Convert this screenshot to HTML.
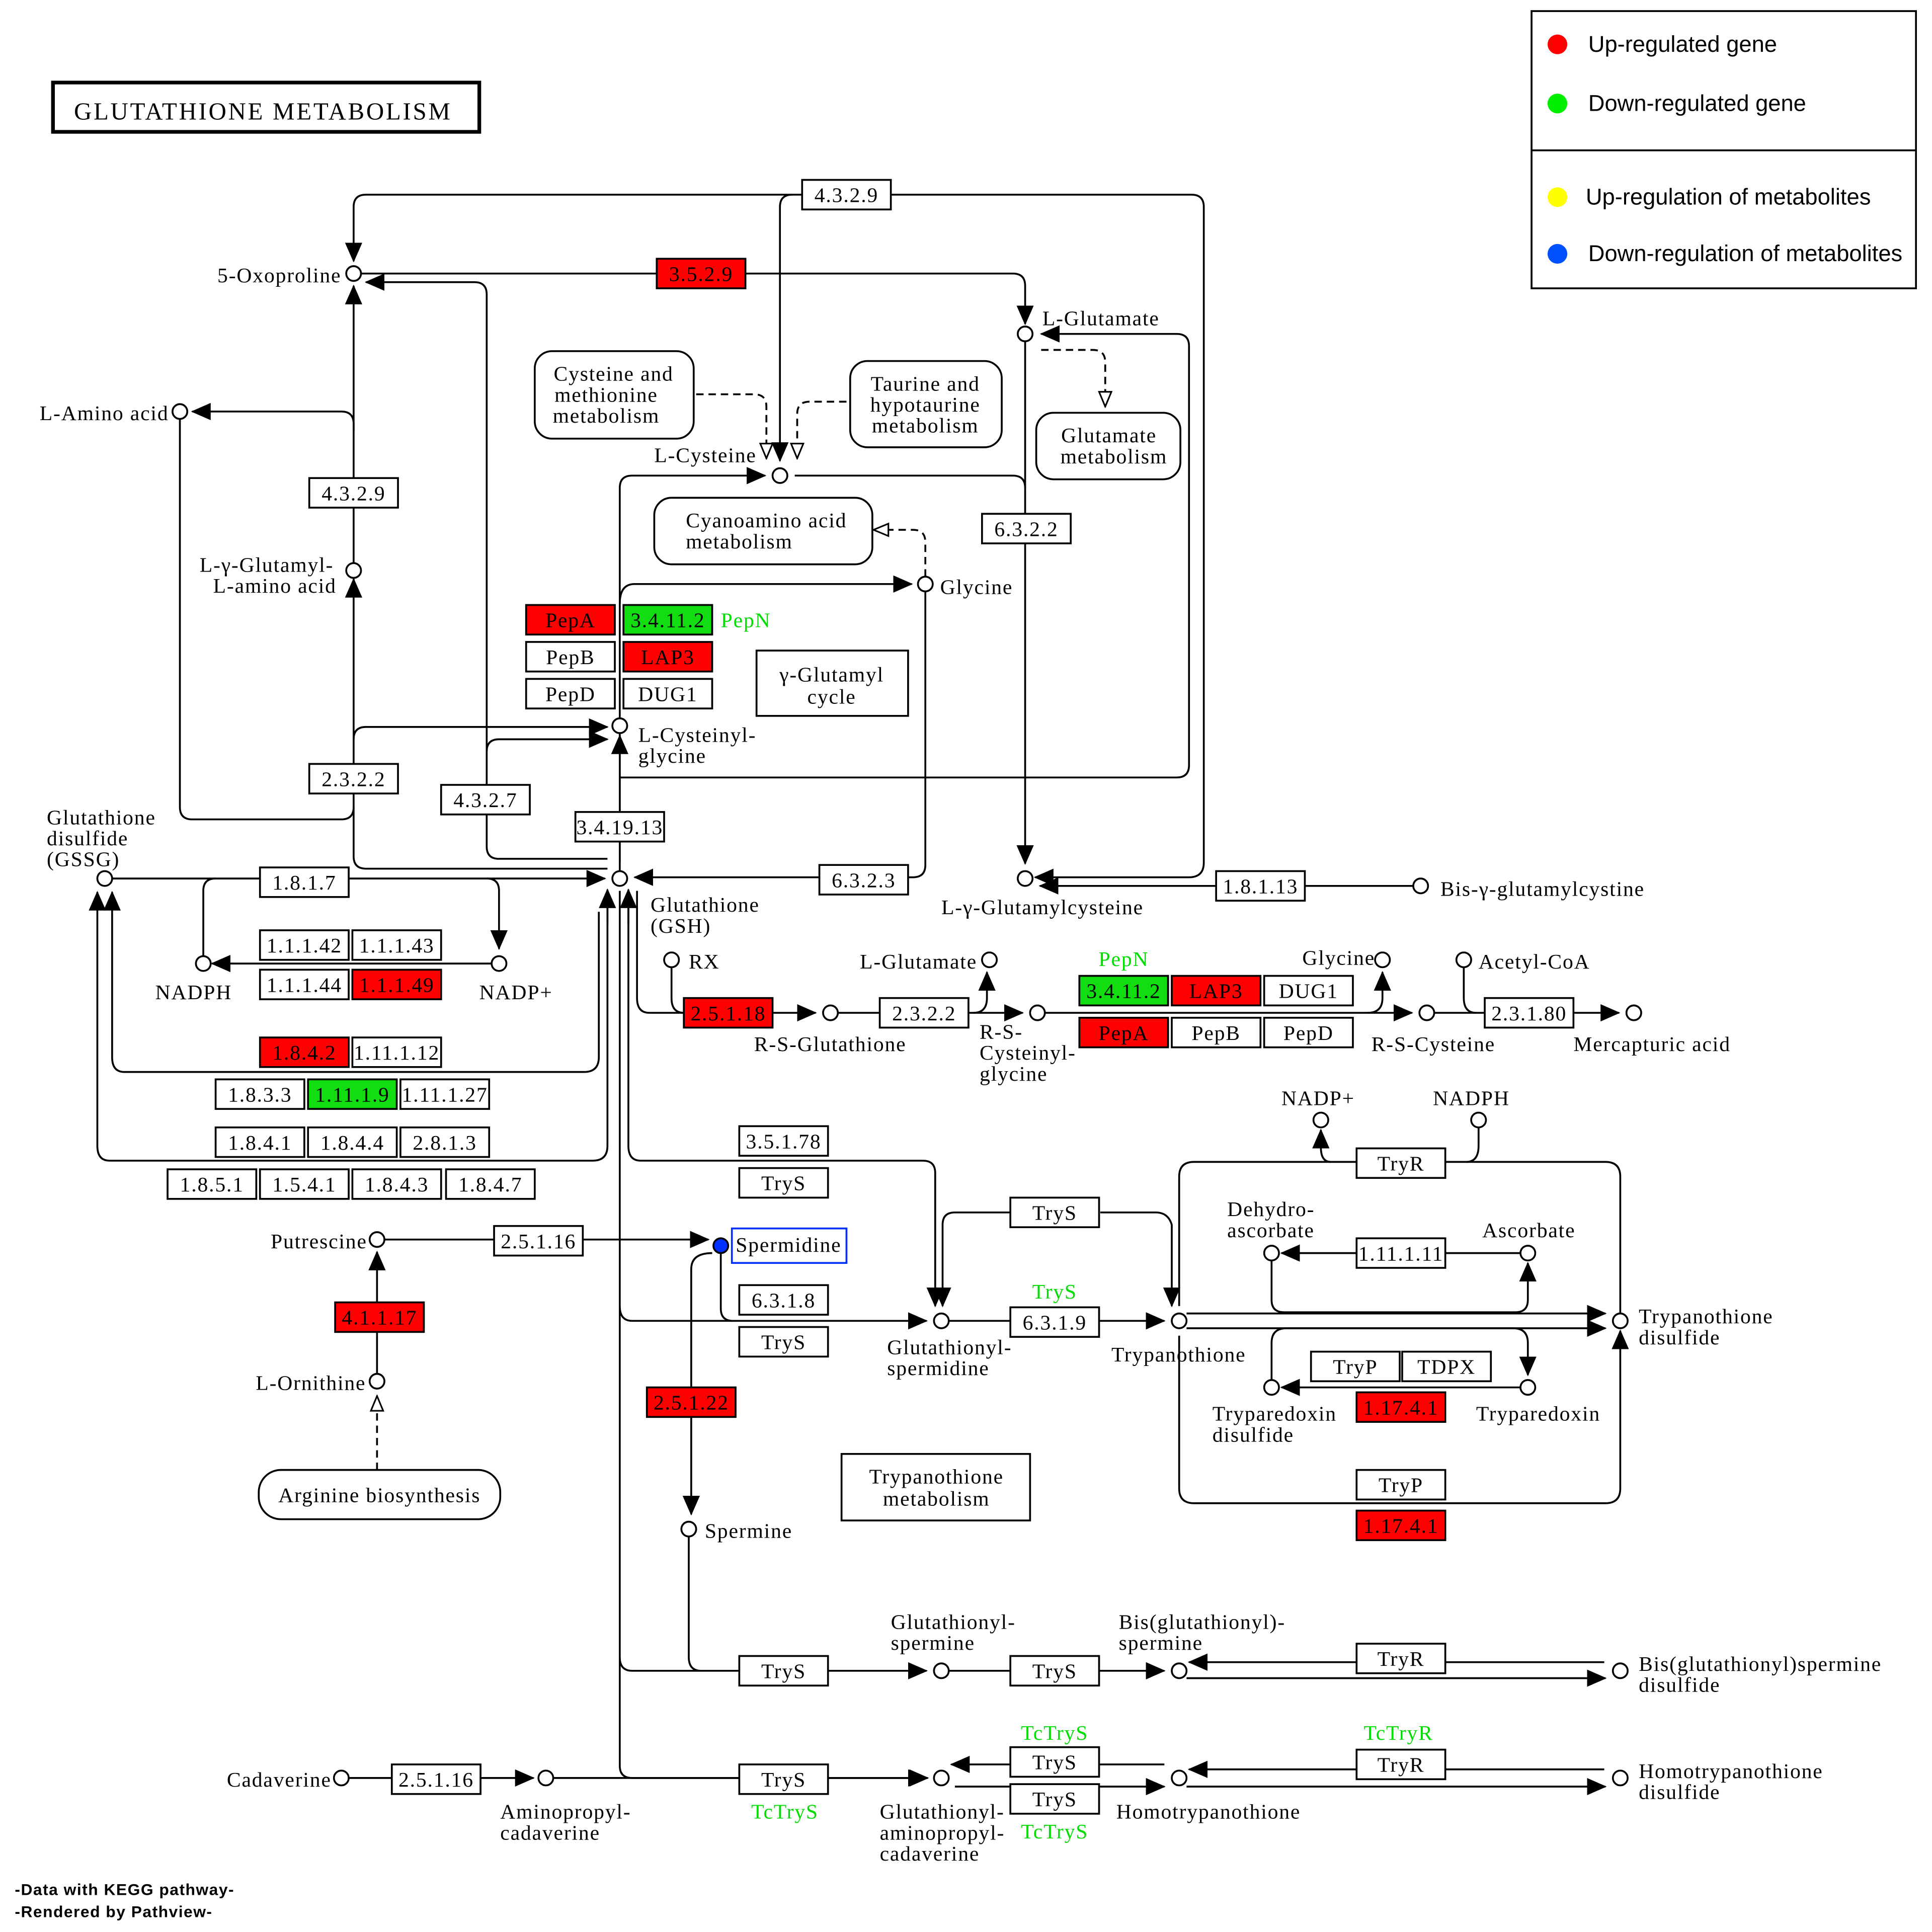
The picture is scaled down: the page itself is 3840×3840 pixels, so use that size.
<!DOCTYPE html>
<html><head><meta charset="utf-8"><style>
html,body{margin:0;padding:0;background:#fff}
svg{display:block}
text{font-family:"Liberation Serif",serif;font-size:17px;letter-spacing:0.75px;fill:#000}
.s{font-family:"Liberation Sans",sans-serif;letter-spacing:0}
.g{fill:#00dd00}
.l{fill:none;stroke:#000;stroke-width:1.5}
.d{fill:none;stroke:#000;stroke-width:1.5;stroke-dasharray:6,4}
.c{fill:#fff;stroke:#000;stroke-width:1.5}
.e{text-anchor:end}
</style></head><body>
<svg width="3840" height="3840" viewBox="0 0 1568 1568" xmlns="http://www.w3.org/2000/svg">
<defs>
<marker id="a" markerUnits="userSpaceOnUse" markerWidth="16" markerHeight="14" refX="15" refY="7" orient="auto"><path d="M0,0 L16,7 L0,14 z" fill="#000"/></marker>
<marker id="o" markerUnits="userSpaceOnUse" markerWidth="14" markerHeight="12" refX="13" refY="6" orient="auto"><path d="M1,1 L13,6 L1,11 z" fill="#fff" stroke="#000" stroke-width="1.3"/></marker>
</defs>
<rect width="1568" height="1568" fill="#fff"/>
<rect x="43" y="67" width="346" height="40" fill="none" stroke="#000" stroke-width="3"/>
<text x="60" y="97" style="font-size:20px;letter-spacing:1.5px">GLUTATHIONE  METABOLISM</text>
<rect x="1243" y="9" width="312" height="225" fill="none" stroke="#000" stroke-width="1.5"/>
<line x1="1243" y1="122" x2="1555" y2="122" stroke="#000" stroke-width="1.5"/>
<circle cx="1264" cy="36" r="8" fill="#f00"/><text class="s" x="1289" y="42" style="font-size:18.5px">Up-regulated gene</text>
<circle cx="1264" cy="84" r="8" fill="#0e0"/><text class="s" x="1289" y="90" style="font-size:18.5px">Down-regulated gene</text>
<circle cx="1264" cy="160" r="8" fill="#ff0"/><text class="s" x="1287" y="166" style="font-size:18.5px">Up-regulation of metabolites</text>
<circle cx="1264" cy="206" r="8" fill="#0050ff"/><text class="s" x="1289" y="212" style="font-size:18.5px">Down-regulation of metabolites</text>

<g class="l">
<path d="M651,158 H297 Q287,158 287,168 V212" marker-end="url(#a)"/>
<path d="M723,158 H967 Q977,158 977,168 V700 Q977,712 965,712 H840" marker-end="url(#a)"/>
<path d="M643,158 Q633,158 633,168 V374" marker-end="url(#a)"/>
<path d="M293,222 H822 Q832,222 832,232 V263" marker-end="url(#a)"/>
<path d="M493,697 H405 Q395,697 395,687 V239 Q395,229 385,229 H297" marker-end="url(#a)"/>
<path d="M395,610 Q395,600 405,600 H493" marker-end="url(#a)"/>
<path d="M493,705 H297 Q287,705 287,695 V232" marker-end="url(#a)"/>
<path d="M287,350 V344 Q287,334 277,334 H156" marker-end="url(#a)"/>
<path d="M146,340 V655 Q146,665 156,665 H277 Q287,665 287,655"/>
<path d="M287,480 V470" marker-end="url(#a)"/>
<path d="M287,600 Q287,590 297,590 H493" marker-end="url(#a)"/>
<path d="M503,700 V396 Q503,386 513,386 H621" marker-end="url(#a)"/>
<path d="M645,386 H822 Q832,386 832,396"/>
<path d="M832,277 V701" marker-end="url(#a)"/>
<path d="M503,490 Q503,474 515,474 H740" marker-end="url(#a)"/>
<path d="M751,480 V702 Q751,712 741,712 H515" marker-end="url(#a)"/>
<path d="M503,707 V597" marker-end="url(#a)"/>
<path d="M503,631 H955 Q965,631 965,621 V281 Q965,271 955,271 H845" marker-end="url(#a)"/>
<path d="M1147,719 H844" marker-end="url(#a)"/>
<path d="M91,713 H491" marker-end="url(#a)"/>
<path d="M175,713 Q165,713 165,723 V776"/>
<path d="M395,713 Q405,713 405,723 V770" marker-end="url(#a)"/>
<path d="M399,782 H172" marker-end="url(#a)"/>
<path d="M486,740 V858 Q486,870 474,870 H101 Q91,870 91,858 V724" marker-end="url(#a)"/>
<path d="M493,724 V930 Q493,942 481,942 H89 Q79,942 79,930 V724" marker-end="url(#a)"/>
<path d="M493,750 V722" marker-end="url(#a)"/>
<path d="M510,750 V722" marker-end="url(#a)"/>
<path d="M517,723 V810 Q517,822 527,822 H662" marker-end="url(#a)"/>
<path d="M545,785 V810 Q545,822 555,822"/>
<path d="M680,822 H830" marker-end="url(#a)"/>
<path d="M790,822 Q801,822 801,810 V789" marker-end="url(#a)"/>
<path d="M848,822 H1146" marker-end="url(#a)"/>
<path d="M1110,822 Q1122,822 1122,810 V789" marker-end="url(#a)"/>
<path d="M1164,822 H1314" marker-end="url(#a)"/>
<path d="M1188,785 V810 Q1188,822 1198,822"/>
<path d="M510,723 V930 Q510,942 520,942 H749 Q759,942 759,952 V1060" marker-end="url(#a)"/>
<path d="M503,723 V1060 Q503,1072 513,1072 H752" marker-end="url(#a)"/>
<path d="M503,1060 V1345 Q503,1356 513,1356 H752" marker-end="url(#a)"/>
<path d="M503,1345 V1433 Q503,1443 513,1443 H752" marker-end="url(#a)"/>
<path d="M312,1006 H575" marker-end="url(#a)"/>
<path d="M306,1057 V1016" marker-end="url(#a)"/>
<path d="M306,1115 V1081"/>
<path d="M585,1017 V1062 Q585,1072 595,1072"/>
<path d="M578,1017 Q561,1017 561,1030 V1229" marker-end="url(#a)"/>
<path d="M559,1247 V1345 Q559,1356 569,1356"/>
<path d="M820,984 H775 Q765,984 765,994 V1060" marker-end="url(#a)"/>
<path d="M893,984 H938 Q948,984 951,994 V1060" marker-end="url(#a)"/>
<path d="M770,1072 H945" marker-end="url(#a)"/>
<path d="M963,1066 H1303" marker-end="url(#a)"/>
<path d="M963,1078 H1303" marker-end="url(#a)"/>
<path d="M957,1060 V955 Q957,943 969,943 H1303 Q1315,943 1315,955 V1066"/>
<path d="M1080,943 Q1072,943 1072,931 V917" marker-end="url(#a)"/>
<path d="M1200,915 V930 Q1200,943 1190,943"/>
<path d="M957,1084 V1208 Q957,1220 969,1220 H1303 Q1315,1220 1315,1208 V1080" marker-end="url(#a)"/>
<path d="M1234,1017 H1040" marker-end="url(#a)"/>
<path d="M1032,1023 V1055 Q1032,1065 1042,1065 H1230 Q1240,1065 1240,1055 V1025" marker-end="url(#a)"/>
<path d="M1234,1126 H1040" marker-end="url(#a)"/>
<path d="M1032,1120 V1090 Q1032,1078 1044,1078 H1228 Q1240,1078 1240,1090 V1116" marker-end="url(#a)"/>
<path d="M770,1356 H945" marker-end="url(#a)"/>
<path d="M1302,1349 H965" marker-end="url(#a)"/>
<path d="M963,1362 H1303" marker-end="url(#a)"/>
<path d="M283,1443 H433" marker-end="url(#a)"/>
<path d="M449,1443 H753" marker-end="url(#a)"/>
<path d="M945,1432 H772" marker-end="url(#a)"/>
<path d="M775,1450 H945" marker-end="url(#a)"/>
<path d="M1302,1436 H965" marker-end="url(#a)"/>
<path d="M963,1450 H1303" marker-end="url(#a)"/>
</g>
<g>
<path class="d" d="M845,284 H887 Q897,284 897,294 V330" marker-end="url(#o)"/>
<path class="d" d="M565,320 H612 Q622,320 622,330 V372" marker-end="url(#o)"/>
<path class="d" d="M687,326 H657 Q647,326 647,336 V372" marker-end="url(#o)"/>
<path class="d" d="M751,468 V440 Q751,430 741,430 H709" marker-end="url(#o)"/>
<path class="d" d="M306,1193 V1133" marker-end="url(#o)"/>
</g>

<g>
<g stroke="#000" stroke-width="1.5" fill="#fff">
<rect x="651" y="146" width="72" height="24"/>
<rect x="251" y="388" width="72" height="24"/>
<rect x="797" y="417" width="72" height="24"/>
<rect x="427" y="521" width="72" height="24"/>
<rect x="427" y="551" width="72" height="24"/>
<rect x="506" y="551" width="72" height="24"/>
<rect x="614" y="528" width="123" height="53"/>
<rect x="251" y="620" width="72" height="24"/>
<rect x="358" y="637" width="72" height="24"/>
<rect x="467" y="659" width="72" height="24"/>
<rect x="665" y="702" width="72" height="24"/>
<rect x="987" y="707" width="72" height="24"/>
<rect x="211" y="704" width="72" height="24"/>
<rect x="211" y="755" width="72" height="24"/>
<rect x="286" y="755" width="72" height="24"/>
<rect x="211" y="787" width="72" height="24"/>
<rect x="286" y="842" width="72" height="24"/>
<rect x="175" y="876" width="72" height="24"/>
<rect x="325" y="876" width="72" height="24"/>
<rect x="175" y="915" width="72" height="24"/>
<rect x="250" y="915" width="72" height="24"/>
<rect x="325" y="915" width="72" height="24"/>
<rect x="136" y="949" width="72" height="24"/>
<rect x="211" y="949" width="72" height="24"/>
<rect x="286" y="949" width="72" height="24"/>
<rect x="362" y="949" width="72" height="24"/>
<rect x="714" y="810" width="72" height="24"/>
<rect x="1026" y="792" width="72" height="24"/>
<rect x="951" y="826" width="72" height="24"/>
<rect x="1026" y="826" width="72" height="24"/>
<rect x="1205" y="810" width="72" height="24"/>
<rect x="600" y="914" width="72" height="24"/>
<rect x="600" y="948" width="72" height="24"/>
<rect x="401" y="995" width="72" height="24"/>
<rect x="600" y="1043" width="72" height="24"/>
<rect x="600" y="1077" width="72" height="24"/>
<rect x="820" y="972" width="72" height="24"/>
<rect x="820" y="1061" width="72" height="24"/>
<rect x="1101" y="932" width="72" height="24"/>
<rect x="1101" y="1005" width="72" height="24"/>
<rect x="1064" y="1097" width="72" height="24"/>
<rect x="1138" y="1097" width="72" height="24"/>
<rect x="1101" y="1193" width="72" height="24"/>
<rect x="683" y="1180" width="153" height="54"/>
<rect x="600" y="1344" width="72" height="24"/>
<rect x="820" y="1344" width="72" height="24"/>
<rect x="1101" y="1334" width="72" height="24"/>
<rect x="820" y="1418" width="72" height="24"/>
<rect x="820" y="1448" width="72" height="24"/>
<rect x="1101" y="1420" width="72" height="24"/>
<rect x="600" y="1432" width="72" height="24"/>
<rect x="318" y="1432" width="72" height="24"/>
</g>
<g stroke="#000" stroke-width="1.5" fill="#f00">
<rect x="533" y="210" width="72" height="24"/>
<rect x="427" y="491" width="72" height="24"/>
<rect x="506" y="521" width="72" height="24"/>
<rect x="286" y="787" width="72" height="24"/>
<rect x="211" y="842" width="72" height="24"/>
<rect x="555" y="810" width="72" height="24"/>
<rect x="951" y="792" width="72" height="24"/>
<rect x="876" y="826" width="72" height="24"/>
<rect x="1101" y="1130" width="72" height="24"/>
<rect x="1101" y="1226" width="72" height="24"/>
<rect x="272" y="1057" width="72" height="24"/>
<rect x="525" y="1126" width="72" height="24"/>
</g>
<g stroke="#000" stroke-width="1.5" fill="#11dd11">
<rect x="506" y="491" width="72" height="24"/>
<rect x="250" y="876" width="72" height="24"/>
<rect x="876" y="792" width="72" height="24"/>
</g>
<rect x="594" y="997" width="93" height="28" fill="#fff" stroke="#0030ff" stroke-width="1.5"/>
<g stroke="#000" stroke-width="1.5" fill="#fff">
<rect x="434" y="285" width="129" height="71" rx="14"/>
<rect x="690" y="293" width="123" height="70" rx="14"/>
<rect x="841" y="335" width="117" height="54" rx="14"/>
<rect x="531" y="404" width="177" height="54" rx="14"/>
<rect x="210" y="1193" width="196" height="40" rx="18"/>
</g>
</g>
<g text-anchor="middle">
<text x="687" y="164">4.3.2.9</text>
<text x="569" y="228">3.5.2.9</text>
<text x="287" y="406">4.3.2.9</text>
<text x="833" y="435">6.3.2.2</text>
<text x="463" y="509">PepA</text>
<text x="542" y="509">3.4.11.2</text>
<text x="463" y="539">PepB</text>
<text x="542" y="539">LAP3</text>
<text x="463" y="569">PepD</text>
<text x="542" y="569">DUG1</text>
<text x="675" y="553">γ-Glutamyl</text>
<text x="675" y="571">cycle</text>
<text x="287" y="638">2.3.2.2</text>
<text x="394" y="655">4.3.2.7</text>
<text x="503" y="677">3.4.19.13</text>
<text x="701" y="720">6.3.2.3</text>
<text x="1023" y="725">1.8.1.13</text>
<text x="247" y="722">1.8.1.7</text>
<text x="247" y="773">1.1.1.42</text>
<text x="322" y="773">1.1.1.43</text>
<text x="247" y="805">1.1.1.44</text>
<text x="322" y="805">1.1.1.49</text>
<text x="247" y="860">1.8.4.2</text>
<text x="322" y="860">1.11.1.12</text>
<text x="211" y="894">1.8.3.3</text>
<text x="286" y="894">1.11.1.9</text>
<text x="361" y="894">1.11.1.27</text>
<text x="211" y="933">1.8.4.1</text>
<text x="286" y="933">1.8.4.4</text>
<text x="361" y="933">2.8.1.3</text>
<text x="172" y="967">1.8.5.1</text>
<text x="247" y="967">1.5.4.1</text>
<text x="322" y="967">1.8.4.3</text>
<text x="398" y="967">1.8.4.7</text>
<text x="591" y="828">2.5.1.18</text>
<text x="750" y="828">2.3.2.2</text>
<text x="912" y="810">3.4.11.2</text>
<text x="987" y="810">LAP3</text>
<text x="1062" y="810">DUG1</text>
<text x="912" y="844">PepA</text>
<text x="987" y="844">PepB</text>
<text x="1062" y="844">PepD</text>
<text x="1241" y="828">2.3.1.80</text>
<text x="636" y="932">3.5.1.78</text>
<text x="636" y="966">TryS</text>
<text x="437" y="1013">2.5.1.16</text>
<text x="640" y="1016">Spermidine</text>
<text x="636" y="1061">6.3.1.8</text>
<text x="636" y="1095">TryS</text>
<text x="856" y="990">TryS</text>
<text x="856" y="1079">6.3.1.9</text>
<text x="1137" y="950">TryR</text>
<text x="1137" y="1023">1.11.1.11</text>
<text x="1100" y="1115">TryP</text>
<text x="1174" y="1115">TDPX</text>
<text x="1137" y="1148">1.17.4.1</text>
<text x="1137" y="1211">TryP</text>
<text x="1137" y="1244">1.17.4.1</text>
<text x="308" y="1075">4.1.1.17</text>
<text x="561" y="1144">2.5.1.22</text>
<text x="760" y="1204">Trypanothione</text>
<text x="760" y="1222">metabolism</text>
<text x="636" y="1362">TryS</text>
<text x="856" y="1362">TryS</text>
<text x="1137" y="1352">TryR</text>
<text x="856" y="1436">TryS</text>
<text x="856" y="1466">TryS</text>
<text x="1137" y="1438">TryR</text>
<text x="636" y="1450">TryS</text>
<text x="354" y="1450">2.5.1.16</text>
<text x="498" y="309">Cysteine and</text>
<text x="492" y="326">methionine</text>
<text x="492" y="343">metabolism</text>
<text x="751" y="317">Taurine and</text>
<text x="751" y="334">hypotaurine</text>
<text x="751" y="351">metabolism</text>
<text x="900" y="359">Glutamate</text>
<text x="904" y="376">metabolism</text>
<text x="622" y="428">Cyanoamino acid</text>
<text x="600" y="445">metabolism</text>
<text x="308" y="1219">Arginine biosynthesis</text>
<text class="g" x="912" y="784">PepN</text>
<text class="g" x="856" y="1054">TryS</text>
<text class="g" x="856" y="1412">TcTryS</text>
<text class="g" x="856" y="1492">TcTryS</text>
<text class="g" x="1135" y="1412">TcTryR</text>
<text class="g" x="637" y="1476">TcTryS</text>
</g>
<text class="g" x="585" y="509">PepN</text>

<g class="c">
<circle cx="287" cy="222" r="6"/><circle cx="146" cy="334" r="6"/><circle cx="287" cy="463" r="6"/>
<circle cx="832" cy="271" r="6"/><circle cx="633" cy="386" r="6"/><circle cx="751" cy="474" r="6"/>
<circle cx="503" cy="589" r="6"/><circle cx="85" cy="713" r="6"/><circle cx="503" cy="713" r="6"/>
<circle cx="832" cy="713" r="6"/><circle cx="1153" cy="719" r="6"/><circle cx="165" cy="782" r="6"/>
<circle cx="405" cy="782" r="6"/><circle cx="545" cy="779" r="6"/><circle cx="674" cy="822" r="6"/>
<circle cx="803" cy="779" r="6"/><circle cx="842" cy="822" r="6"/><circle cx="1122" cy="779" r="6"/>
<circle cx="1158" cy="822" r="6"/><circle cx="1188" cy="779" r="6"/><circle cx="1326" cy="822" r="6"/>
<circle cx="1072" cy="909" r="6"/><circle cx="1200" cy="909" r="6"/><circle cx="306" cy="1006" r="6"/>
<circle cx="764" cy="1072" r="6"/><circle cx="957" cy="1072" r="6"/>
<circle cx="1032" cy="1017" r="6"/><circle cx="1240" cy="1017" r="6"/><circle cx="1315" cy="1072" r="6"/>
<circle cx="1032" cy="1126" r="6"/><circle cx="1240" cy="1126" r="6"/><circle cx="306" cy="1121" r="6"/>
<circle cx="559" cy="1241" r="6"/><circle cx="764" cy="1356" r="6"/><circle cx="957" cy="1356" r="6"/>
<circle cx="1315" cy="1356" r="6"/><circle cx="277" cy="1443" r="6"/><circle cx="443" cy="1443" r="6"/>
<circle cx="764" cy="1443" r="6"/><circle cx="957" cy="1443" r="6"/><circle cx="1315" cy="1443" r="6"/>
</g>
<circle cx="585" cy="1011" r="6" fill="#0030ff" stroke="#000" stroke-width="1.5"/>

<g>
<text class="e" x="277" y="229">5-Oxoproline</text>
<text class="e" x="137" y="341">L-Amino acid</text>
<text x="162" y="464">L-γ-Glutamyl-</text>
<text x="173" y="481">L-amino acid</text>
<text x="846" y="264">L-Glutamate</text>
<text class="e" x="614" y="375">L-Cysteine</text>
<text x="763" y="482">Glycine</text>
<text x="518" y="602">L-Cysteinyl-</text>
<text x="518" y="619">glycine</text>
<text x="38" y="669">Glutathione</text>
<text x="38" y="686">disulfide</text>
<text x="38" y="703">(GSSG)</text>
<text x="528" y="740">Glutathione</text>
<text x="528" y="757">(GSH)</text>
<text x="764" y="742">L-γ-Glutamylcysteine</text>
<text x="1169" y="727">Bis-γ-glutamylcystine</text>
<text x="126" y="811">NADPH</text>
<text x="389" y="811">NADP+</text>
<text x="559" y="786">RX</text>
<text x="612" y="853">R-S-Glutathione</text>
<text class="e" x="793" y="786">L-Glutamate</text>
<text x="795" y="843">R-S-</text>
<text x="795" y="860">Cysteinyl-</text>
<text x="795" y="877">glycine</text>
<text class="e" x="1116" y="783">Glycine</text>
<text x="1200" y="786">Acetyl-CoA</text>
<text x="1113" y="853">R-S-Cysteine</text>
<text x="1277" y="853">Mercapturic acid</text>
<text x="1040" y="897">NADP+</text>
<text x="1163" y="897">NADPH</text>
<text class="e" x="298" y="1013">Putrescine</text>
<text class="e" x="297" y="1128">L-Ornithine</text>
<text x="996" y="987">Dehydro-</text>
<text x="996" y="1004">ascorbate</text>
<text x="1203" y="1004">Ascorbate</text>
<text x="720" y="1099">Glutathionyl-</text>
<text x="720" y="1116">spermidine</text>
<text x="902" y="1105">Trypanothione</text>
<text x="1330" y="1074">Trypanothione</text>
<text x="1330" y="1091">disulfide</text>
<text x="984" y="1153">Tryparedoxin</text>
<text x="984" y="1170">disulfide</text>
<text x="1198" y="1153">Tryparedoxin</text>
<text x="572" y="1248">Spermine</text>
<text x="723" y="1322">Glutathionyl-</text>
<text x="723" y="1339">spermine</text>
<text x="908" y="1322">Bis(glutathionyl)-</text>
<text x="908" y="1339">spermine</text>
<text x="1330" y="1356">Bis(glutathionyl)spermine</text>
<text x="1330" y="1373">disulfide</text>
<text class="e" x="269" y="1450">Cadaverine</text>
<text x="406" y="1476">Aminopropyl-</text>
<text x="406" y="1493">cadaverine</text>
<text x="714" y="1476">Glutathionyl-</text>
<text x="714" y="1493">aminopropyl-</text>
<text x="714" y="1510">cadaverine</text>
<text x="906" y="1476">Homotrypanothione</text>
<text x="1330" y="1443">Homotrypanothione</text>
<text x="1330" y="1460">disulfide</text>
</g>
<text class="s" x="12" y="1538" style="font-size:13px;font-weight:bold;letter-spacing:0.6px">-Data with KEGG pathway-</text>
<text class="s" x="12" y="1556" style="font-size:13px;font-weight:bold;letter-spacing:0.6px">-Rendered  by  Pathview-</text>
</svg>
</body></html>
